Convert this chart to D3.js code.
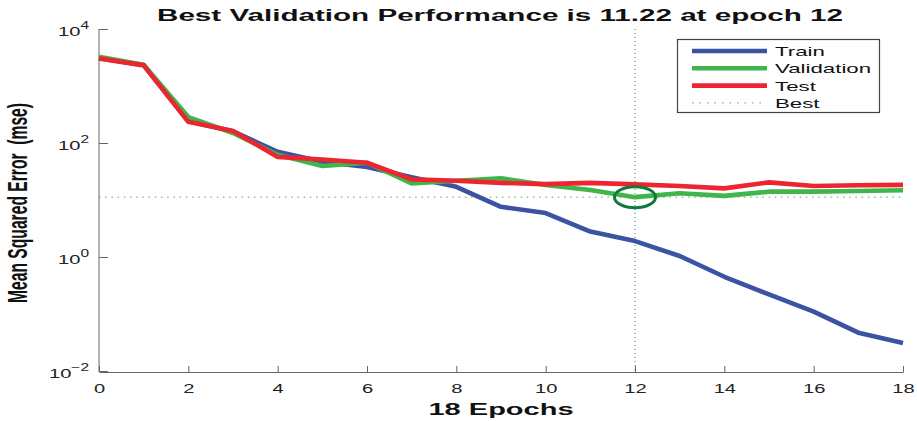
<!DOCTYPE html>
<html>
<head>
<meta charset="utf-8">
<script src="https://d3js.org/d3.v7.min.js"></script>
<style>
  body { margin: 0; background: #fff; }
  svg { display: block; font-family: "Liberation Sans", Arial, Helvetica, sans-serif; }
</style>
</head>
<body>
<div id="chart"></div>
<script>
var epochs = d3.range(0, 19);
var train = [3080, 2340, 240, 160, 70, 47, 38, 25, 17, 7.6, 5.9, 2.8, 1.9, 1.04, 0.45, 0.22, 0.11, 0.047, 0.031];
var validation = [3250, 2350, 285, 150, 62, 39.5, 45, 19.6, 21.8, 24, 18.3, 15, 11.22, 13.1, 11.8, 14, 14, 14.4, 14.8];
var test = [3050, 2300, 235, 162, 57, 51.5, 45, 23, 21.8, 20, 19, 20, 18.8, 17.6, 16, 20.4, 17.6, 18.1, 18.4];
var xTicks = [0, 2, 4, 6, 8, 10, 12, 14, 16, 18];
var yExps = [4, 2, 0, -2];
var bestEpoch = 12, bestValue = 11.22;

var W = 917, H = 421, SX = 1.55;
var x = d3.scaleLinear().domain([0, 18]).range([99, 903]);
var y = d3.scaleLog().domain([1e-2, 1e4]).range([371, 29]);
var axisY = 372;

var svg = d3.select("#chart").append("svg").attr("width", W).attr("height", H);

// x axis, ticks pointing inward
var xa = svg.append("g").attr("transform", "translate(0," + axisY + ")")
  .call(d3.axisBottom(x).tickValues(xTicks).tickSizeInner(-6).tickSizeOuter(0).tickPadding(0).tickFormat(d3.format("d")));
xa.select(".domain").attr("stroke", "#666");
xa.selectAll(".tick line").attr("stroke", "#666");
xa.selectAll(".tick text").attr("y", 21).attr("dy", null).attr("fill", "#222")
  .style("font-size", "13px").attr("transform", "scale(" + SX + ",1)");

// y axis, custom 10^n labels
var ya = svg.append("g").attr("transform", "translate(99,0)")
  .call(d3.axisLeft(y).tickValues(yExps.map(function(e) { return Math.pow(10, e); }))
    .tickSizeInner(-9).tickSizeOuter(0).tickFormat(""));
ya.select(".domain").attr("stroke", "#666").attr("d", "M0," + y(1e4) + "V" + axisY);
ya.selectAll(".tick line").attr("stroke", "#666");

yExps.forEach(function(e) {
  var t = svg.append("g").attr("transform", "translate(89," + (y(Math.pow(10, e)) + 7) + ") scale(" + SX + ",1)")
    .append("text").attr("text-anchor", "end").attr("fill", "#222").style("font-size", "13px");
  t.append("tspan").text("10");
  t.append("tspan").attr("dy", -7).style("font-size", "10px").text(e < 0 ? "\u2212" + (-e) : e);
});

// best markers
svg.append("line").attr("x1", x(0)).attr("x2", x(18)).attr("y1", y(bestValue)).attr("y2", y(bestValue))
  .attr("stroke", "#4ea66a").attr("stroke-width", 1).attr("stroke-dasharray", "1.5,4.7");
svg.append("line").attr("x1", x(bestEpoch)).attr("x2", x(bestEpoch)).attr("y1", y(1e4)).attr("y2", axisY)
  .attr("stroke", "#2f8a52").attr("stroke-width", 1).attr("stroke-dasharray", "1,3");

var line = d3.line().x(function(d, i) { return x(epochs[i]); }).y(function(d) { return y(d); });
var series = [
  { name: "Train", values: train, color: "#3c53a4" },
  { name: "Validation", values: validation, color: "#3fb54b" },
  { name: "Test", values: test, color: "#ec2530" }
];
series.forEach(function(s) {
  svg.append("path").datum(s.values).attr("d", line).attr("fill", "none")
    .attr("stroke", s.color).attr("stroke-width", 4.6).attr("stroke-linejoin", "round");
});

svg.append("ellipse").attr("cx", x(bestEpoch)).attr("cy", y(bestValue)).attr("rx", 20.5).attr("ry", 10.5)
  .attr("fill", "none").attr("stroke", "#0e7a3c").attr("stroke-width", 3);

// legend
var lg = svg.append("g");
lg.append("rect").attr("x", 677.5).attr("y", 39.5).attr("width", 202).attr("height", 73)
  .attr("fill", "#fff").attr("stroke", "#444").attr("stroke-width", 1.2);
var items = series.concat([{ name: "Best", color: "#4ea66a", dotted: true }]);
items.forEach(function(s, i) {
  var cy = 51 + i * 17.3;
  lg.append("line").attr("x1", 692).attr("x2", 767).attr("y1", cy).attr("y2", cy)
    .attr("stroke", s.color).attr("stroke-width", s.dotted ? 1 : 4.6)
    .attr("stroke-dasharray", s.dotted ? "1.5,6" : null);
  lg.append("g").attr("transform", "translate(775," + (cy + 5) + ") scale(1.65,1)")
    .append("text").attr("fill", "#111").style("font-size", "13.5px").text(s.name);
});

// title and labels
svg.append("text").attr("x", 500).attr("y", 21).attr("text-anchor", "middle")
  .attr("textLength", 686).attr("lengthAdjust", "spacingAndGlyphs")
  .style("font-size", "16px").style("font-weight", "bold").attr("fill", "#111")
  .text("Best Validation Performance is 11.22 at epoch 12");
svg.append("text").attr("x", 501).attr("y", 415).attr("text-anchor", "middle")
  .attr("textLength", 145).attr("lengthAdjust", "spacingAndGlyphs")
  .style("font-size", "16px").style("font-weight", "bold").attr("fill", "#111")
  .text("18 Epochs");
svg.append("g").attr("transform", "translate(27,203) rotate(-90) scale(1,1.85)")
  .append("text").attr("text-anchor", "middle").style("white-space", "pre")
  .attr("textLength", 200).attr("lengthAdjust", "spacingAndGlyphs")
  .style("font-size", "15px").style("font-weight", "bold").attr("fill", "#111")
  .text("Mean Squared Error  (mse)");
</script>
</body>
</html>
